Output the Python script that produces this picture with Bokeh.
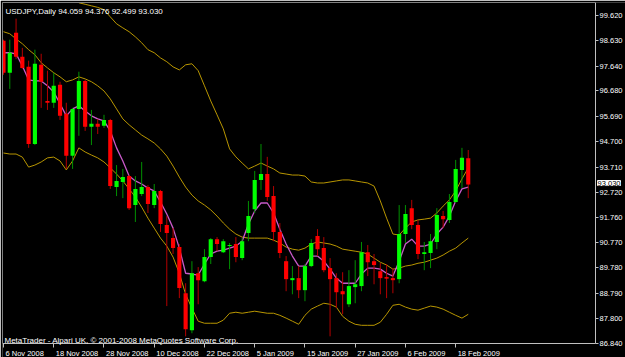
from bokeh.plotting import figure
from bokeh.models import (Range1d, FixedTicker, Label, PrintfTickFormatter, ColumnDataSource,
                          LinearAxis)
from bokeh.embed import file_html
from bokeh.resources import INLINE

FONT = "Liberation Sans"
FS_AXIS = "7.5px"
FS_TEXT = "8px"

# ---- data (USDJPY daily, 6 Nov 2008 .. 20 Feb 2009) ----
opens = [98.64, 97.39, 98.95, 98.01, 97.62, 94.61, 97.70, 96.29, 96.22, 96.92,
         95.79, 94.15, 95.98, 97.07, 95.28, 95.40, 95.32, 95.55, 92.93, 93.13,
         93.36, 92.23, 92.66, 92.93, 92.23, 92.78, 91.45, 90.94, 90.59, 88.79,
         87.35, 89.57, 89.26, 90.20, 90.90, 90.39, 90.63, 90.71, 90.16, 91.14,
         92.07, 93.21, 93.44, 92.58, 91.18, 90.04, 89.30, 89.38, 88.91, 89.85,
         91.02, 90.55, 89.77, 89.38, 88.87, 88.36, 89.03, 89.07, 90.39, 90.04,
         89.65, 89.42, 89.38, 89.34, 91.10, 92.11, 91.45, 90.32, 90.36, 90.79,
         91.80, 91.65, 92.35, 93.60, 94.059]
highs = [98.68, 98.68, 99.50, 98.36, 97.86, 98.29, 98.13, 97.47, 97.39, 97.04,
         96.22, 96.02, 97.43, 97.11, 95.94, 95.59, 95.75, 95.59, 93.79, 93.64,
         93.40, 93.36, 93.91, 93.01, 93.05, 92.82, 91.80, 91.33, 90.71, 89.18,
         90.04, 89.81, 90.51, 90.94, 90.98, 90.90, 90.75, 90.98, 90.94, 92.39,
         93.56, 94.61, 94.11, 92.97, 91.53, 90.24, 89.85, 89.85, 89.93, 90.90,
         91.29, 90.98, 90.16, 89.57, 89.61, 89.69, 90.08, 90.79, 90.67, 90.32,
         89.97, 89.93, 89.77, 92.23, 92.23, 92.43, 91.65, 90.79, 91.10, 92.11,
         92.00, 92.66, 93.99, 94.46, 94.376]
lows = [97.31, 96.76, 97.93, 97.54, 94.46, 94.57, 96.02, 95.94, 96.02, 95.55,
        93.64, 93.64, 94.93, 95.12, 94.57, 95.00, 95.24, 92.86, 92.58, 92.50,
        92.04, 91.57, 92.58, 91.92, 92.11, 91.18, 88.29, 90.32, 88.60, 87.11,
        87.23, 88.36, 89.22, 89.93, 90.43, 90.36, 89.73, 90.00, 90.08, 90.82,
        91.92, 92.82, 92.39, 90.82, 90.16, 88.87, 88.75, 88.60, 88.48, 89.81,
        90.24, 89.61, 87.11, 88.21, 87.97, 88.25, 88.40, 88.87, 89.46, 89.14,
        88.75, 88.60, 88.79, 89.18, 90.75, 91.29, 90.12, 89.69, 89.77, 90.51,
        91.33, 91.53, 92.31, 92.89, 92.499]
closes = [97.39, 98.17, 98.01, 97.58, 94.61, 97.74, 97.04, 96.22, 96.88, 95.71,
          94.15, 95.98, 97.07, 95.28, 95.40, 95.28, 95.55, 92.97, 93.17, 93.32,
          92.11, 92.86, 92.93, 92.27, 92.78, 91.49, 91.14, 90.55, 88.99, 87.39,
          89.57, 89.30, 90.20, 90.90, 90.71, 90.82, 90.67, 90.20, 90.82, 91.80,
          93.21, 93.44, 92.54, 91.18, 90.36, 89.34, 89.38, 88.91, 89.85, 90.75,
          90.51, 89.69, 89.34, 88.83, 88.75, 89.07, 89.14, 90.39, 90.00, 89.89,
          89.38, 89.36, 89.30, 91.10, 91.88, 91.45, 90.32, 90.39, 90.82, 91.84,
          91.68, 92.35, 93.64, 94.07, 93.030]

ma_line = [98.17, 98.17, 98.13, 97.66, 97.11, 97.07, 97.07, 96.88, 96.64, 96.18,
           95.71, 95.98, 96.10, 95.90, 95.71, 95.59, 95.51, 95.12, 94.46, 93.95,
           93.36, 93.17, 93.05, 92.89, 92.78, 92.35, 91.88, 91.33, 90.55, 89.57,
           89.54, 89.50, 89.93, 90.32, 90.43, 90.47, 90.55, 90.63, 90.82, 91.49,
           92.00, 92.31, 92.31, 91.92, 91.29, 90.71, 90.24, 89.85, 89.85, 90.24,
           90.24, 90.04, 89.73, 89.38, 89.18, 89.18, 89.18, 89.54, 89.77, 89.77,
           89.73, 89.57, 89.46, 90.04, 90.71, 90.90, 90.63, 90.63, 90.71, 91.10,
           91.37, 91.80, 92.39, 92.86, 92.93]

nan = float("nan")
band_upper = [nan, nan, nan, nan, nan, nan, nan, nan, nan, nan,
              nan, 100.32, 100.12, 100.06, 100.00, 99.94, 99.85, 99.57, 99.30, 99.14,
              98.99, 98.79, 98.56, 98.29, 98.17, 97.97, 97.82, 97.62, 97.50, 97.70,
              97.74, 97.47, 96.88, 96.29, 95.75, 95.20, 94.42, 94.11, 93.87, 93.64,
              93.75, 93.87, 93.75, 93.64, 93.48, 93.44, 93.40, 93.40, 93.36, 93.13,
              93.09, 93.09, 93.13, 93.17, 93.21, 93.21, 93.17, 93.13, 93.09, 92.97,
              92.39, 91.72, 91.10, 91.06, 91.33, 91.57, 91.65, 91.68, 91.72, 91.92,
              92.19, 92.43, 92.78, 93.25, 93.68]
band_mid = [98.99, 98.91, 98.71, 98.52, 98.29, 98.09, 97.78, 97.58, 97.39, 97.23,
            97.04, 97.11, 97.23, 97.15, 97.04, 96.88, 96.68, 96.37, 95.98, 95.59,
            95.36, 95.16, 94.96, 94.81, 94.65, 94.42, 94.14, 93.75, 93.32, 92.93,
            92.62, 92.39, 92.23, 92.04, 91.80, 91.53, 91.29, 91.10, 90.98, 90.94,
            90.94, 90.94, 90.94, 90.86, 90.75, 90.59, 90.51, 90.47, 90.55, 90.71,
            90.79, 90.75, 90.71, 90.63, 90.51, 90.47, 90.43, 90.39, 90.32, 90.16,
            90.00, 89.89, 89.73, 89.77, 89.85, 89.89, 89.96, 90.00, 90.08, 90.16,
            90.28, 90.43, 90.55, 90.75, 90.94]
band_lower = [94.26, 94.22, 94.22, 94.10, 93.71, 93.79, 93.91, 94.07, 94.10, 93.95,
              93.60, 93.95, 94.46, 94.30, 94.18, 94.07, 93.91, 93.68, 93.44, 93.17,
              92.86, 92.54, 92.15, 91.72, 91.33, 90.94, 90.63, 90.20, 89.57, 88.75,
              88.21, 87.70, 87.62, 87.62, 87.62, 87.74, 88.01, 88.05, 88.01, 88.05,
              88.09, 88.05, 88.01, 88.01, 87.93, 87.82, 87.70, 87.58, 87.93, 88.17,
              88.29, 88.40, 88.36, 88.25, 87.89, 87.70, 87.58, 87.54, 87.54, 87.54,
              87.66, 87.97, 88.32, 88.36, 88.25, 88.17, 88.13, 88.21, 88.29, 88.25,
              88.17, 88.05, 87.93, 87.82, 87.97]

date_tick_bars = [0, 8, 16, 24, 32, 40, 48, 56, 64, 72]
date_tick_labels = ["6 Nov 2008", "18 Nov 2008", "28 Nov 2008", "10 Dec 2008", "22 Dec 2008",
                    "5 Jan 2009", "15 Jan 2009", "27 Jan 2009", "6 Feb 2009", "18 Feb 2009"]
price_ticks = [99.62, 98.63, 97.64, 96.68, 95.69, 94.70, 93.71, 92.72, 91.76, 90.77,
               89.78, 88.79, 87.80, 86.84]
price_tick_labels = ["99.620", "98.630", "97.640", "96.680", "95.690", "94.700", "93.710",
                     "92.720", "91.760", "90.770", "89.780", "88.790", "87.800", "86.840"]

header_text = "USDJPY,Daily 94.059 94.376 92.499 93.030"
footer_text = "MetaTrader - Alpari UK, \u00a9 2001-2008 MetaQuotes Software Corp."
last_price_label = "93.030"
last_price = 93.030

# ---- colours ----
BULL, BEAR = "#00FF00", "#FF0000"
BULL_WICK, BEAR_WICK = "#009000", "#B40000"
MA_COLOR = "#C85AC8"
BAND_COLOR = "#B89600"
AXIS_COLOR = "#C0C0C0"
BORDER_COLOR = "#808080"

# ---- view geometry: chart area plus the price / date scale strips ----
X_START, X_END = -0.16, 99.04        # whole canvas width
CHART_RIGHT = 94.27                  # right edge of the chart area (price scale line)
Y_START, Y_END = 86.284, 100.13      # whole canvas height
CHART_BOTTOM = 86.83                 # bottom edge of the chart area (time scale line)

idx = list(range(len(opens)))
up = [c >= o for o, c in zip(opens, closes)]
src = ColumnDataSource(dict(
    x=idx, open=opens, high=highs, low=lows, close=closes,
    top=[max(o, c) for o, c in zip(opens, closes)],
    bottom=[min(o, c) for o, c in zip(opens, closes)],
    body=[BULL if u else BEAR for u in up],
    wick=[BULL_WICK if u else BEAR_WICK for u in up],
    ma=ma_line, bu=band_upper, bm=band_mid, bl=band_lower,
))

p = figure(width=625, height=357, output_backend="svg", toolbar_location=None,
           title=None, x_axis_location=None, y_axis_location=None,
           x_range=Range1d(X_START, X_END), y_range=Range1d(Y_START, Y_END),
           min_border_left=2, min_border_top=2, min_border_right=0, min_border_bottom=0)
p.background_fill_color = "#000000"
p.border_fill_color = "#000000"
p.outline_line_color = None
p.grid.visible = False

# bands and MA
for col in ("bu", "bm", "bl"):
    p.line("x", col, source=src, line_color=BAND_COLOR, line_width=1)
p.line("x", "ma", source=src, line_color=MA_COLOR, line_width=1.3)

# candles
p.segment("x", "low", "x", "high", source=src, line_color="wick", line_width=1)
p.vbar(x="x", width=0.66, top="top", bottom="bottom", source=src,
       fill_color="body", line_color=None)

# chart border (left and top): plain axes without ticks
left_border = LinearAxis(ticker=FixedTicker(ticks=[]), bounds=(CHART_BOTTOM, Y_END),
                         axis_line_color=BORDER_COLOR, major_tick_out=0, major_tick_in=0,
                         minor_tick_out=0, minor_tick_in=0)
top_border = LinearAxis(ticker=FixedTicker(ticks=[]), bounds=(X_START, CHART_RIGHT),
                        axis_line_color=BORDER_COLOR, major_tick_out=0, major_tick_in=0,
                        minor_tick_out=0, minor_tick_in=0)
p.add_layout(left_border, "left")
p.add_layout(top_border, "above")

# price scale on the right edge of the chart area
price_axis = LinearAxis(fixed_location=CHART_RIGHT, bounds=(CHART_BOTTOM, Y_END),
                        ticker=FixedTicker(ticks=price_ticks),
                        formatter=PrintfTickFormatter(format="%.3f"))
price_axis.major_label_overrides = dict(zip(price_ticks, price_tick_labels))
price_axis.axis_line_color = AXIS_COLOR
price_axis.major_tick_line_color = AXIS_COLOR
price_axis.major_tick_out = 3
price_axis.major_tick_in = 0
price_axis.minor_tick_line_color = None
price_axis.major_label_standoff = 1
price_axis.major_label_text_color = "#FFFFFF"
price_axis.major_label_text_font = FONT
price_axis.major_label_text_font_size = FS_AXIS
p.add_layout(price_axis, "right")

# time scale along the bottom edge of the chart area (tick marks; labels beside ticks)
date_axis = LinearAxis(fixed_location=CHART_BOTTOM, bounds=(X_START, CHART_RIGHT),
                       ticker=FixedTicker(ticks=date_tick_bars))
date_axis.axis_line_color = AXIS_COLOR
date_axis.major_tick_line_color = AXIS_COLOR
date_axis.major_tick_out = 4
date_axis.major_tick_in = 0
date_axis.minor_tick_line_color = None
date_axis.major_label_text_color = None
date_axis.major_label_text_font_size = "1px"
p.add_layout(date_axis, "below")

for b, t in zip(date_tick_bars, date_tick_labels):
    p.add_layout(Label(x=b, y=4.5, x_units="data", y_units="screen", x_offset=2,
                       text=t, text_color="#FFFFFF", text_font=FONT, text_font_size=FS_AXIS,
                       text_align="left", text_baseline="alphabetic"))

p.add_layout(Label(x=3, y=346, x_units="screen", y_units="screen", text=header_text,
                   text_color="#FFFFFF", text_font=FONT, text_font_size=FS_TEXT,
                   text_align="left", text_baseline="alphabetic"))
p.add_layout(Label(x=2, y=17, x_units="screen", y_units="screen", text=footer_text,
                   text_color="#FFFFFF", text_font=FONT, text_font_size=FS_TEXT,
                   text_align="left", text_baseline="alphabetic"))

# last price marker on the price scale
p.add_layout(Label(x=CHART_RIGHT, y=last_price, x_units="data", y_units="data", x_offset=2,
                   y_offset=1.5, text=last_price_label, text_color="#000000", text_font=FONT,
                   text_font_size=FS_AXIS, text_align="left", text_baseline="middle",
                   background_fill_color="#FFFFFF", border_line_color="#FFFFFF"))

open("out.html", "w").write(file_html(p, INLINE))
